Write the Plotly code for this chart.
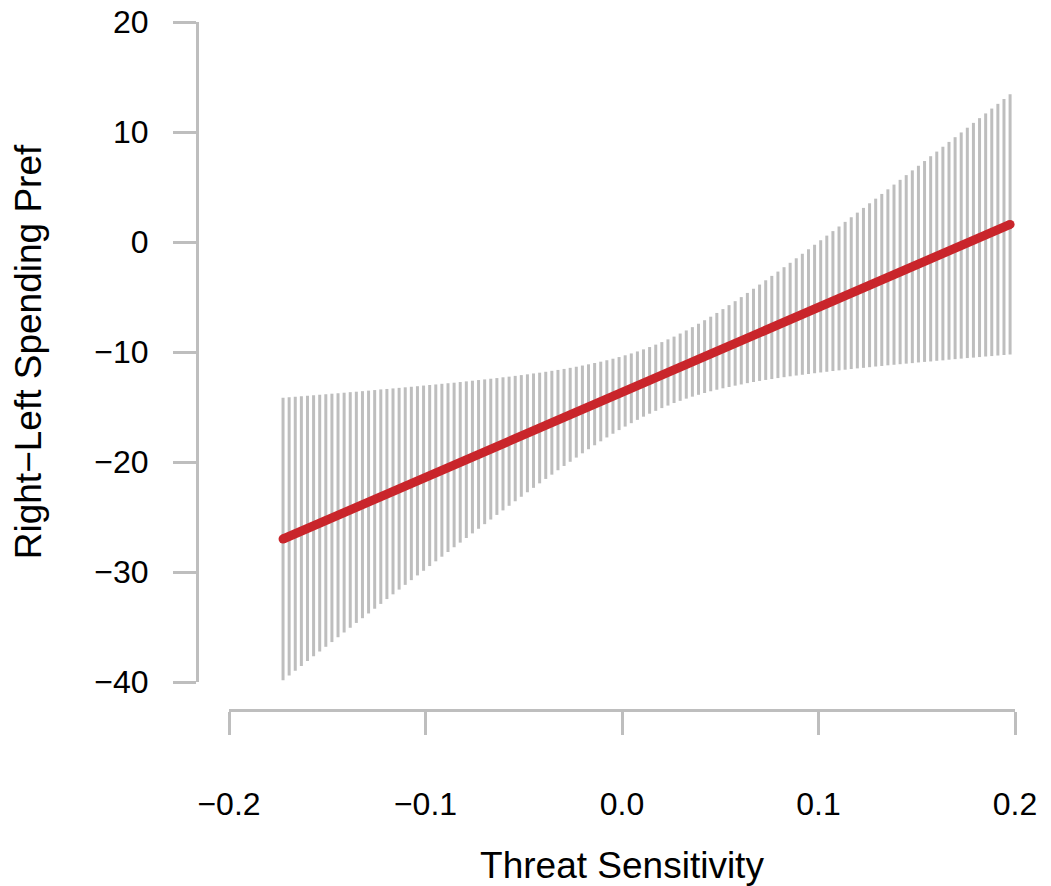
import numpy as np
import plotly.graph_objects as go

# ---- data ----
x_first, x_last = -0.1725, 0.1975

upper = [-14.15, -14.11, -14.07, -14.02, -13.98, -13.93, -13.89, -13.84, -13.79, -13.75,
         -13.70, -13.65, -13.61, -13.56, -13.51, -13.46, -13.40, -13.36, -13.31, -13.26,
         -13.21, -13.16, -13.11, -13.05, -13.00, -12.95, -12.89, -12.84, -12.79, -12.73,
         -12.67, -12.61, -12.55, -12.49, -12.43, -12.37, -12.30, -12.24, -12.17, -12.10,
         -12.03, -11.95, -11.88, -11.80, -11.71, -11.63, -11.54, -11.44, -11.34, -11.23,
         -11.12, -11.00, -10.88, -10.75, -10.61, -10.46, -10.30, -10.13, -9.95, -9.76,
         -9.55, -9.33, -9.10, -8.85, -8.60, -8.32, -8.04, -7.74, -7.43, -7.11,
         -6.79, -6.45, -6.10, -5.74, -5.38, -5.01, -4.63, -4.25, -3.87, -3.48,
         -3.08, -2.69, -2.29, -1.89, -1.48, -1.07, -0.66, -0.25, 0.16, 0.58,
         0.99, 1.41, 1.83, 2.25, 2.67, 3.10, 3.52, 3.94, 4.37, 4.79,
         5.22, 5.65, 6.08, 6.51, 6.93, 7.36, 7.80, 8.22, 8.66, 9.10,
         9.53, 9.96, 10.39, 10.83, 11.26, 11.69, 12.13, 12.56, 13.00, 13.43]

lower = [-39.85, -39.41, -38.97, -38.54, -38.10, -37.67, -37.23, -36.80, -36.37, -35.93,
         -35.50, -35.07, -34.63, -34.20, -33.77, -33.34, -32.90, -32.46, -32.03, -31.60,
         -31.17, -30.74, -30.31, -29.89, -29.46, -29.03, -28.61, -28.18, -27.75, -27.33,
         -26.91, -26.49, -26.07, -25.65, -25.23, -24.81, -24.40, -23.98, -23.57, -23.16,
         -22.75, -22.35, -21.94, -21.54, -21.15, -20.75, -20.36, -19.98, -19.60, -19.21,
         -18.84, -18.48, -18.12, -17.77, -17.43, -17.10, -16.78, -16.47, -16.17, -15.88,
         -15.61, -15.35, -15.10, -14.87, -14.64, -14.44, -14.24, -14.06, -13.89, -13.73,
         -13.57, -13.43, -13.30, -13.18, -13.06, -12.95, -12.83, -12.73, -12.63, -12.54,
         -12.46, -12.37, -12.29, -12.21, -12.14, -12.07, -12.00, -11.93, -11.86, -11.80,
         -11.73, -11.67, -11.61, -11.55, -11.49, -11.44, -11.38, -11.32, -11.27, -11.21,
         -11.16, -11.11, -11.06, -11.01, -10.95, -10.90, -10.86, -10.80, -10.76, -10.70,
         -10.65, -10.60, -10.55, -10.51, -10.46, -10.41, -10.37, -10.32, -10.28, -10.23]

fit_x = [-0.1725, 0.1975]
fit_y = [-27.0, 1.6]

x_ticks = [-0.2, -0.1, 0.0, 0.1, 0.2]
y_ticks = [-40, -30, -20, -10, 0, 10, 20]

x_title = "Threat Sensitivity"
y_title = "Right\u2212Left Spending Pref"

# ---- build figure ----
xs = np.linspace(x_first, x_last, len(upper))
seg_x, seg_y = [], []
for xv, lo, hi in zip(xs, lower, upper):
    seg_x += [xv, xv, None]
    seg_y += [lo, hi, None]

GRAY = "#bebebe"
RED = "#c9252b"
FONT = "Liberation Sans, Arial, Helvetica, sans-serif"

fig = go.Figure()
fig.add_trace(go.Scatter(x=seg_x, y=seg_y, mode="lines",
                         line=dict(color=GRAY, width=3),
                         hoverinfo="skip", showlegend=False))
fig.add_trace(go.Scatter(x=fit_x, y=fit_y, mode="lines+markers",
                         line=dict(color=RED, width=9),
                         marker=dict(color=RED, size=9, line=dict(width=0)),
                         showlegend=False))

W, H = 1051, 886
ml, mr, mt, mb = 120, 36, 22, 176
pw = W - ml - mr
ph = H - mt - mb

def fx(px):
    return (px - ml) / pw

def fy(py):
    return (H - mb - py) / ph

axis_common = dict(showline=True, linecolor=GRAY, linewidth=3,
                   ticks="outside", ticklen=23, tickwidth=3, tickcolor=GRAY,
                   showgrid=False, zeroline=False, automargin=False,
                   tickfont=dict(family=FONT, size=32, color="#000000"))

fig.update_layout(
    width=W, height=H,
    margin=dict(l=ml, r=mr, t=mt, b=mb, pad=0),
    paper_bgcolor="white", plot_bgcolor="white",
    font=dict(family=FONT, color="#000000"),
    xaxis=dict(domain=[fx(229), 1.0], range=[-0.2, 0.2],
               anchor="free", position=0.0,
               tickvals=x_ticks, tickformat=".1f",
               ticklabelstandoff=42,
               title=dict(text=x_title, font=dict(family=FONT, size=37), standoff=30),
               **axis_common),
    yaxis=dict(domain=[fy(682), 1.0], range=[-40, 20],
               anchor="free", position=fx(197),
               tickvals=y_ticks,
               ticklabelstandoff=18,
               title=dict(text=y_title, font=dict(family=FONT, size=37), standoff=40),
               **axis_common),
)

fig.write_html("out.html",
               config={"displayModeBar": False},
               post_script="document.body.style.margin='0';document.body.style.overflow='hidden';")
